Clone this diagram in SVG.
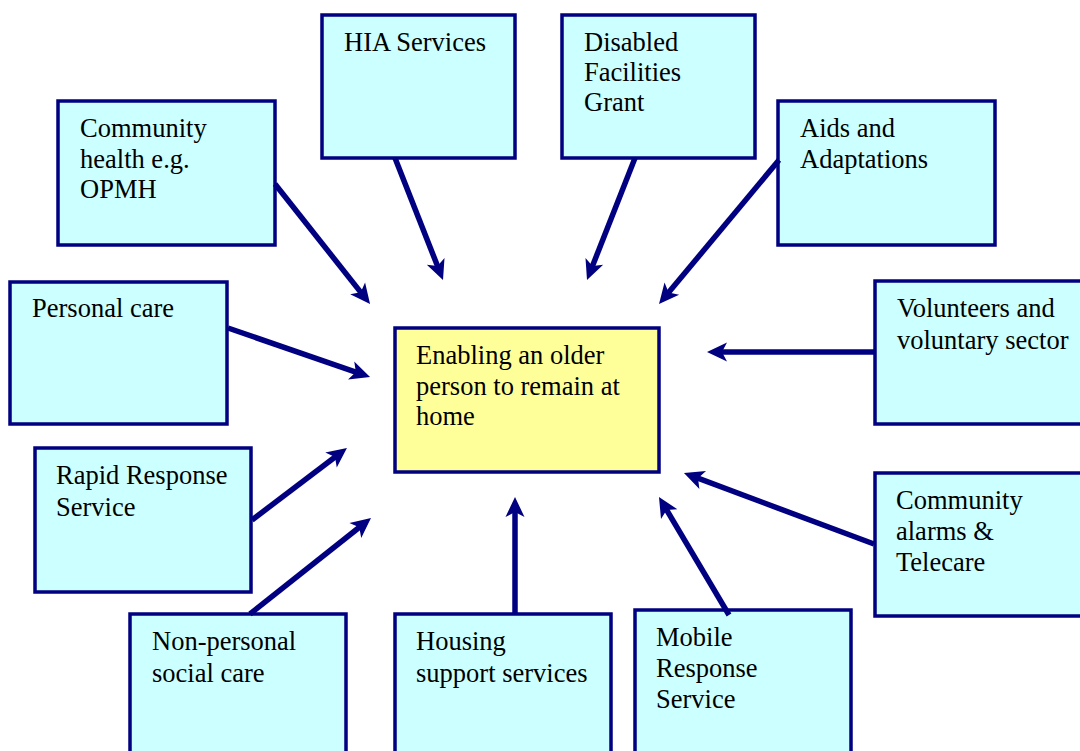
<svg xmlns="http://www.w3.org/2000/svg" width="1080" height="751" viewBox="0 0 1080 751">
  <style>
    .box { fill: #CCFFFF; stroke: #000080; stroke-width: 3.5; }
    .hub { fill: #FFFF99; stroke: #000080; stroke-width: 3.5; }
    .lbl { font-family: "Liberation Serif", "Times New Roman", serif; font-size: 26.5px; fill: #000000; }
    .arr { stroke: #000080; stroke-width: 5.5; fill: none; marker-end: url(#head); }
  </style>
  <defs>
    <marker id="head" markerUnits="userSpaceOnUse" markerWidth="40" markerHeight="30" viewBox="-20 -15 40 30" refX="0" refY="0" orient="auto">
      <path d="M12,0 L-8,-9.5 L-3,0 L-8,9.5 Z" fill="#000080"/>
    </marker>
  </defs>

  <rect width="1080" height="751" fill="#FFFFFF"/>

  <!-- surrounding services -->
  <g id="hia-services">
    <rect class="box" x="322" y="15" width="193" height="143"/>
    <text class="lbl" x="344" y="51">HIA Services</text>
  </g>
  <g id="disabled-facilities-grant">
    <rect class="box" x="562" y="15" width="193" height="143"/>
    <text class="lbl" x="584" y="51">Disabled<tspan x="584" dy="30">Facilities</tspan><tspan x="584" dy="30">Grant</tspan></text>
  </g>
  <g id="community-health">
    <rect class="box" x="58" y="101" width="217" height="144"/>
    <text class="lbl" x="80" y="137">Community<tspan x="80" dy="30.5">health e.g.</tspan><tspan x="80" dy="30.5">OPMH</tspan></text>
  </g>
  <g id="aids-adaptations">
    <rect class="box" x="778" y="101" width="217" height="144"/>
    <text class="lbl" x="800" y="137">Aids and<tspan x="800" dy="30.5">Adaptations</tspan></text>
  </g>
  <g id="personal-care">
    <rect class="box" x="10" y="282" width="217" height="142"/>
    <text class="lbl" x="32" y="317">Personal care</text>
  </g>
  <g id="volunteers">
    <rect class="box" x="875" y="281" width="215" height="143"/>
    <text class="lbl" x="897" y="317">Volunteers and<tspan x="897" dy="32">voluntary sector</tspan></text>
  </g>
  <g id="rapid-response">
    <rect class="box" x="35" y="448" width="216" height="144"/>
    <text class="lbl" x="56" y="484">Rapid Response<tspan x="56" dy="31.5">Service</tspan></text>
  </g>
  <g id="community-alarms">
    <rect class="box" x="875" y="473" width="215" height="143"/>
    <text class="lbl" x="896" y="509">Community<tspan x="896" dy="31">alarms &amp;</tspan><tspan x="896" dy="31">Telecare</tspan></text>
  </g>
  <g id="non-personal-social-care">
    <rect class="box" x="130" y="614" width="216" height="150"/>
    <text class="lbl" x="152" y="650">Non-personal<tspan x="152" dy="32">social care</tspan></text>
  </g>
  <g id="housing-support">
    <rect class="box" x="395" y="614" width="216" height="150"/>
    <text class="lbl" x="416" y="650">Housing<tspan x="416" dy="32">support services</tspan></text>
  </g>
  <g id="mobile-response">
    <rect class="box" x="635" y="610" width="216" height="150"/>
    <text class="lbl" x="656" y="646">Mobile<tspan x="656" dy="31">Response</tspan><tspan x="656" dy="31">Service</tspan></text>
  </g>

  <!-- central goal -->
  <g id="goal">
    <rect class="hub" x="395" y="328" width="264" height="144"/>
    <text class="lbl" x="416" y="364">Enabling an older<tspan x="416" dy="30.5">person to remain at</tspan><tspan x="416" dy="30.5">home</tspan></text>
  </g>

  <!-- connectors pointing to the goal -->
  <g id="connectors">
    <line class="arr" x1="275" y1="184" x2="362.6" y2="294.6"/>
    <line class="arr" x1="395" y1="158" x2="438.6" y2="268.8"/>
    <line class="arr" x1="635" y1="158" x2="591.4" y2="268.8"/>
    <line class="arr" x1="779" y1="160" x2="666.7" y2="294.8"/>
    <line class="arr" x1="228" y1="328" x2="358.7" y2="373.1"/>
    <line class="arr" x1="874" y1="352" x2="719" y2="352"/>
    <line class="arr" x1="874" y1="544" x2="695.2" y2="477.2"/>
    <line class="arr" x1="729" y1="615" x2="665.1" y2="507.3"/>
    <line class="arr" x1="515" y1="614" x2="515" y2="509"/>
    <line class="arr" x1="250" y1="614" x2="361.6" y2="525.5"/>
    <line class="arr" x1="252" y1="520" x2="337.4" y2="455.2"/>
  </g>
</svg>
